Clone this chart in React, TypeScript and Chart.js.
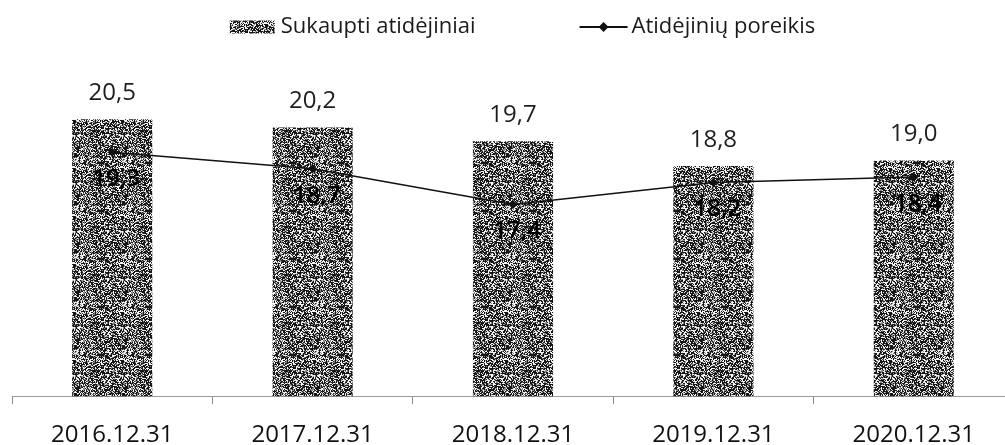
import React, { useEffect, useRef } from 'react';
import { Chart, registerables } from 'chart.js';

Chart.register(...registerables);

const categories = ['2016.12.31', '2017.12.31', '2018.12.31', '2019.12.31', '2020.12.31'];
const accumulated = [20.5, 20.2, 19.7, 18.8, 19.0];
const required = [19.3, 18.7, 17.4, 18.2, 18.4];
const seriesNames = ['Sukaupti atidėjiniai', 'Atidėjinių poreikis'];
const yMin = 10.42;
const yMax = 22.66;

const FONT = '"Open Sans", "DejaVu Sans", sans-serif';
const LEGEND_SIZE = 22;
const LABEL_SIZE = 24;

function texHash(x: number, y: number): number {
  let h = (Math.imul(x, 73856093) ^ Math.imul(y, 19349663)) >>> 0;
  h = Math.imul(h ^ (h >>> 13), 1274126177);
  h = (h ^ (h >>> 16)) >>> 0;
  return h / 4294967296;
}

function makeTexture(): HTMLCanvasElement {
  const size = 48;
  const c = document.createElement('canvas');
  c.width = size;
  c.height = size;
  const g = c.getContext('2d')!;
  for (let y = 0; y < size; y++) {
    for (let x = 0; x < size; x++) {
      const h = texHash(x + 7, y + 3);
      g.fillStyle = h < 0.5 ? '#161616' : h < 0.7 ? '#8a8a8a' : '#f3f3f3';
      g.fillRect(x, y, 1, 1);
    }
  }
  return c;
}

const fmt = (v: number) => v.toFixed(1).replace('.', ',');

export default function App() {
  const ref = useRef<HTMLCanvasElement | null>(null);

  useEffect(() => {
    const canvas = ref.current;
    if (!canvas) return;
    const ctx = canvas.getContext('2d')!;
    const tex = makeTexture();
    const pattern = ctx.createPattern(tex, 'repeat')!;

    const labelsPlugin = {
      id: 'valueLabels',
      afterDatasetsDraw(chart: any) {
        const c = chart.ctx;
        c.save();
        c.textAlign = 'center';
        c.textBaseline = 'middle';
        c.font = `${LABEL_SIZE}px ${FONT}`;
        const barMeta = chart.getDatasetMeta(0);
        barMeta.data.forEach((el: any, i: number) => {
          c.fillStyle = '#1e1e1e';
          c.fillText(fmt(accumulated[i]), el.x, el.y - 26);
        });
        c.font = `600 ${LABEL_SIZE}px ${FONT}`;
        const lineMeta = chart.getDatasetMeta(1);
        lineMeta.data.forEach((el: any, i: number) => {
          c.fillStyle = '#000000';
          c.fillText(fmt(required[i]), el.x + 4, el.y + 27);
        });
        c.restore();
      },
    };

    const legendPlugin = {
      id: 'customLegend',
      afterDraw(chart: any) {
        const c = chart.ctx;
        c.save();
        c.font = `${LEGEND_SIZE}px ${FONT}`;
        c.textBaseline = 'middle';
        c.textAlign = 'left';
        const swatchW = 45;
        const swatchH = 13;
        const lineW = 48;
        const gapText1 = 6;
        const gapText2 = 4;
        const itemGap = 104;
        const t1 = c.measureText(seriesNames[0]).width;
        const t2 = c.measureText(seriesNames[1]).width;
        const total = swatchW + gapText1 + t1 + itemGap + lineW + gapText2 + t2;
        const centerX = 522.5;
        const cy = 27;
        let x = centerX - total / 2;
        c.fillStyle = pattern;
        c.fillRect(x, cy - swatchH / 2, swatchW, swatchH);
        x += swatchW + gapText1;
        c.fillStyle = '#1a1a1a';
        c.fillText(seriesNames[0], x, cy);
        x += t1 + itemGap;
        c.strokeStyle = '#111';
        c.lineWidth = 2;
        c.beginPath();
        c.moveTo(x, cy);
        c.lineTo(x + lineW, cy);
        c.stroke();
        const dx = x + lineW / 2;
        c.fillStyle = '#111';
        c.beginPath();
        c.moveTo(dx, cy - 5);
        c.lineTo(dx + 5, cy);
        c.lineTo(dx, cy + 5);
        c.lineTo(dx - 5, cy);
        c.closePath();
        c.fill();
        x += lineW + gapText2;
        c.fillStyle = '#1a1a1a';
        c.fillText(seriesNames[1], x, cy);
        c.restore();
      },
    };

    const chart = new Chart(canvas, {
      type: 'bar',
      data: {
        labels: categories,
        datasets: [
          {
            type: 'bar',
            label: seriesNames[0],
            data: accumulated,
            backgroundColor: pattern as any,
            borderWidth: 0,
            barPercentage: 0.8,
            categoryPercentage: 0.5,
            order: 1,
          },
          {
            type: 'line',
            label: seriesNames[1],
            data: required,
            borderColor: '#111111',
            borderWidth: 1.6,
            pointStyle: 'rectRot',
            pointRadius: 4.5,
            pointBackgroundColor: '#111111',
            pointBorderColor: '#111111',
            pointBorderWidth: 0,
            fill: false,
            tension: 0,
            order: 0,
          } as any,
        ],
      },
      options: {
        animation: false,
        responsive: true,
        maintainAspectRatio: false,
        layout: { padding: { top: 60, left: 12, right: 16, bottom: 3 } },
        plugins: {
          legend: { display: false },
          tooltip: { enabled: false },
          title: { display: false },
        },
        scales: {
          x: {
            type: 'category',
            grid: {
              display: true,
              drawOnChartArea: false,
              drawTicks: true,
              tickLength: 8,
              color: '#8a8a8a',
              tickColor: '#8a8a8a',
              lineWidth: 1,
              offset: true,
            },
            border: { display: true, color: '#9a9a9a', dash: [2, 3], width: 1 },
            ticks: {
              font: { family: FONT, size: LABEL_SIZE },
              color: '#111111',
              padding: 17,
              maxRotation: 0,
              autoSkip: false,
            },
          },
          y: {
            display: false,
            min: yMin,
            max: yMax,
          },
        },
      },
      plugins: [labelsPlugin, legendPlugin],
    });

    return () => chart.destroy();
  }, []);

  return (
    <div style={{ position: 'fixed', left: 0, top: 0, width: 1005, height: 445, overflow: 'hidden', background: '#fff' }}>
      <div style={{ position: 'relative', width: 1030, height: 470 }}>
        <canvas ref={ref} />
      </div>
    </div>
  );
}
